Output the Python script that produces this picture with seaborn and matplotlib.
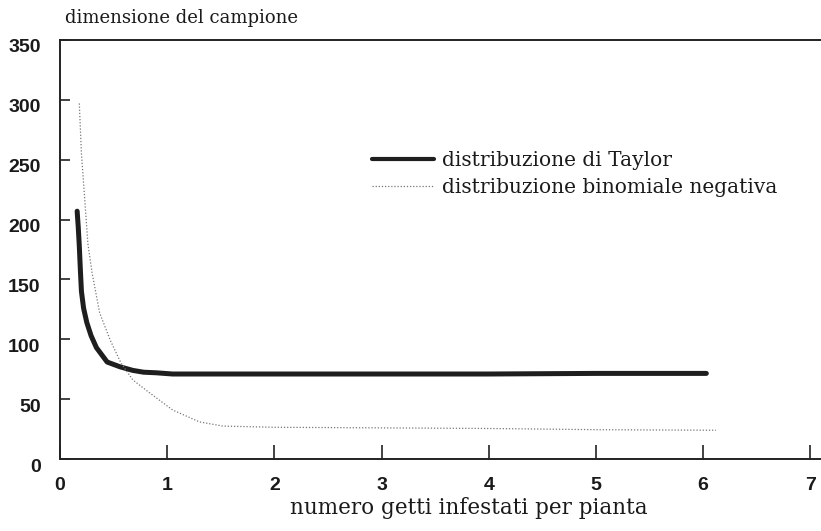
import matplotlib
matplotlib.use("Agg")
import matplotlib.pyplot as plt
import matplotlib.transforms as mtransforms
import seaborn as sns
import pandas as pd

# Data
taylor_x = [0.16, 0.17, 0.18, 0.19, 0.20, 0.22, 0.25, 0.29, 0.34, 0.44, 0.56, 0.68, 0.78, 0.90, 1.05, 1.5, 2.0, 3.0, 4.0, 5.0, 6.03]
taylor_y = [207, 194, 178, 158, 140, 126, 114, 103, 93, 81, 77, 74, 72.5, 72, 71, 71, 71, 71, 71, 71.5, 71.5]
negbin_x = [0.18, 0.20, 0.23, 0.26, 0.30, 0.37, 0.47, 0.57, 0.68, 0.84, 1.05, 1.30, 1.52, 2.0, 3.0, 4.0, 5.0, 6.12]
negbin_y = [297, 255, 218, 180, 155, 122, 99, 80, 66, 55, 41, 31, 27.5, 26.5, 26, 25.5, 24.5, 24]
x_ticks = [0, 1, 2, 3, 4, 5, 6, 7]
y_ticks = [0, 50, 100, 150, 200, 250, 300, 350]
series_names = ["distribuzione di Taylor", "distribuzione binomiale negativa"]

df_t = pd.DataFrame({"x": taylor_x, "y": taylor_y})
df_n = pd.DataFrame({"x": negbin_x, "y": negbin_y})

sns.set_style("ticks")
plt.rcParams["font.family"] = ["DejaVu Serif"]

fig = plt.figure(figsize=(8.21, 5.31), dpi=100)
ax = fig.add_axes([60/821, 1-459/531, 1-60/821, (459-40)/531])

sns.lineplot(data=df_t, x="x", y="y", ax=ax, color="#1e1e1e", lw=3.6,
             label=series_names[0], solid_capstyle="round", solid_joinstyle="round")
sns.lineplot(data=df_n, x="x", y="y", ax=ax, color="#777777", lw=0.9,
             linestyle=(0, (1, 1.5)), label=series_names[1])

ax.set_xlim(0, 7.1)
ax.set_ylim(0, 350)
ax.set_xticks(x_ticks)
ax.set_yticks(y_ticks)
ax.set_xticklabels([str(t) for t in x_ticks])
ax.set_yticklabels([str(t) for t in y_ticks])
ax.set_xlabel("")
ax.set_ylabel("")

for s in ["left", "bottom", "top"]:
    ax.spines[s].set_visible(True)
    ax.spines[s].set_linewidth(1.4)
    ax.spines[s].set_color("#222222")
ax.spines["right"].set_visible(False)

ax.tick_params(axis="x", direction="in", length=10, width=1.2, pad=13, colors="#222222")
ax.tick_params(axis="y", direction="in", length=7, width=1.2, pad=14, colors="#222222")
for lbl in ax.get_xticklabels() + ax.get_yticklabels():
    lbl.set_fontfamily(["Liberation Sans", "DejaVu Sans"])
    lbl.set_fontweight("bold")
    lbl.set_fontsize(14)
    lbl.set_color("#1a1a1a")
off = mtransforms.ScaledTranslation(0, -6/100, fig.dpi_scale_trans)
for lbl in ax.get_yticklabels():
    lbl.set_transform(lbl.get_transform() + off)

leg = ax.legend(loc="upper left", bbox_to_anchor=(372/821, 1-151/531),
                bbox_transform=fig.transFigure, frameon=False,
                handlelength=3.1, handletextpad=0.4, labelspacing=0.4,
                borderpad=0, borderaxespad=0, fontsize=14.5)
for t in leg.get_texts():
    t.set_color("#1a1a1a")
for h in leg.get_lines():
    if h.get_linewidth() > 2:
        h.set_linewidth(3.0)

fig.text(65/821, 1-18/531, "dimensione del campione", fontsize=13,
         ha="left", va="center", color="#1a1a1a")
fig.text(469/821, 1-508/531, "numero getti infestati per pianta", fontsize=15.5,
         ha="center", va="center", color="#1a1a1a")

fig.savefig("out.png", dpi=100)
